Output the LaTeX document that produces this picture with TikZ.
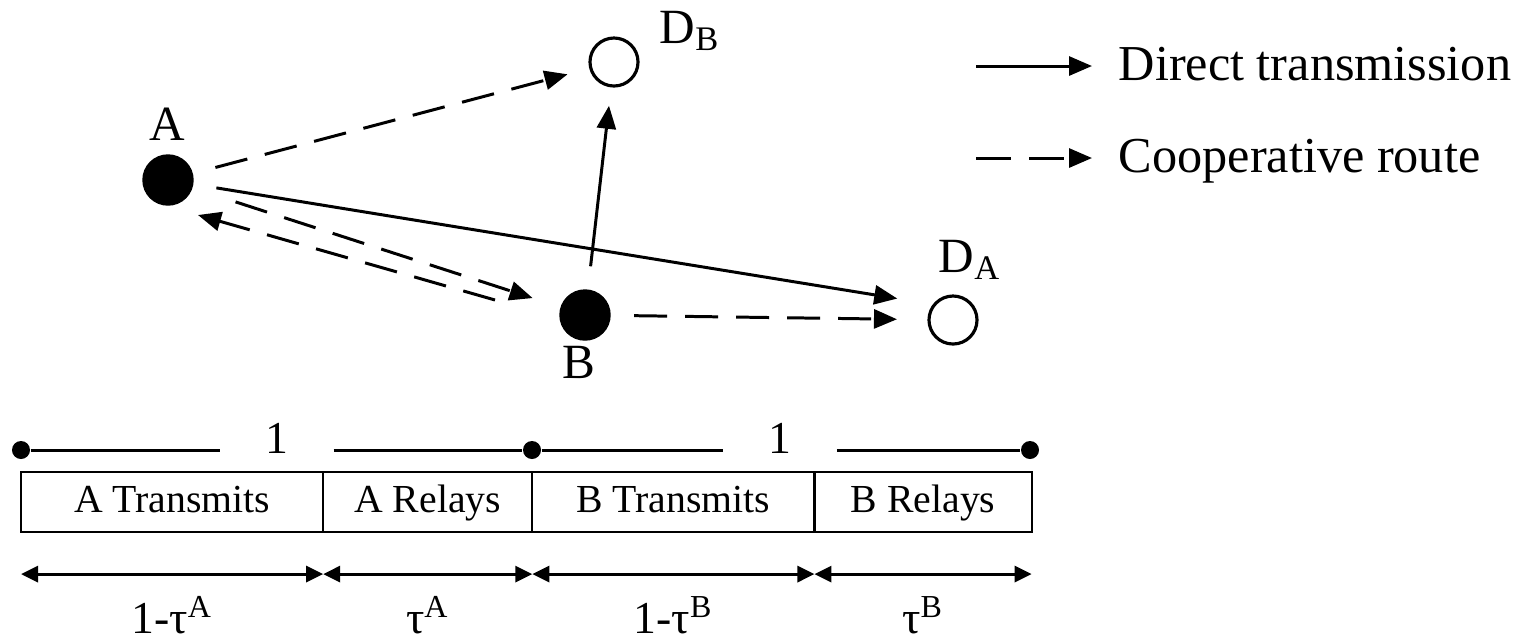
\documentclass[tikz,border=0pt]{standalone}
\usepackage{fontspec}
\setmainfont{Liberation Serif}
\usetikzlibrary{arrows.meta, positioning, calc}
\tikzset{
  srcnode/.style={circle, fill=black, draw=black, inner sep=0pt,
                  minimum size=0.5cm, outer sep=0.24cm},
  destnode/.style={circle, draw=black, line width=0.9pt, fill=white, inner sep=0pt,
                   minimum size=0.48cm, outer sep=0.24cm},
  nodelabel/.style={font=\fontsize{14}{16}\selectfont, inner sep=0pt, anchor=base},
  directarr/.style={-{Triangle[length=0.23cm, width=0.19cm]}, line width=0.85pt},
  coarr/.style={directarr, dash pattern=on 0.33cm off 0.18cm},
  legendtext/.style={font=\fontsize{14.3}{17}\selectfont, inner sep=0pt, anchor=base west},
  tickdot/.style={circle, fill=black, inner sep=0pt, minimum size=0.18cm},
  onelabel/.style={font=\fontsize{13}{15}\selectfont, inner sep=0pt, minimum width=1.12cm},
  slotbox/.style={draw, line width=0.6pt, minimum height=0.6cm, inner sep=0pt, outer sep=0pt,
                  text height=1.55ex, text depth=0.3ex, font=\fontsize{11.3}{13}\selectfont},
  spanarr/.style={{Triangle[length=0.17cm, width=0.16cm]}-{Triangle[length=0.17cm, width=0.16cm]},
                  line width=0.85pt},
  spanlabel/.style={font=\fontsize{13}{15}\selectfont, inner sep=0pt, anchor=base},
}

\begin{document}
\begin{tikzpicture}[x=0.01cm, y=-0.01cm]
  \useasboundingbox (0,0) rectangle (1525,638);

  % terminals
  \node[srcnode] (A) at (168,180) {};
  \node[srcnode] (B) at (585,315) {};
  \node[destnode] (DB) at (614,62) {};
  \node[destnode] (DA) at (953,320) {};
  \node[nodelabel] (lA) at (167,140) {A};
  \node[nodelabel] (lB) at (579,378) {B};
  \node[nodelabel, anchor=base west] (lDB) at (659,43) {D\textsubscript{B}};
  \node[nodelabel, anchor=base west] (lDA) at (938,272) {D\textsubscript{A}};

  % links
  \draw[coarr] (A) -- (DB);
  \draw[directarr, shorten >=0.12cm] (A) -- (DA.156);
  \draw[coarr, shorten <=0.22cm, shorten >=0.06cm] (A) -- (B);
  \draw[coarr] ($(B)+(-90,-15)$) -- ($(A)+(30,35)$);
  \draw[directarr, shorten >=-0.04cm] (B) -- (DB);
  \draw[coarr, shorten >=0.08cm] (B) -- (DA);

  % legend
  \coordinate (ls0) at (976,66);
  \coordinate (ls1) at (1092,66);
  \coordinate (lc0) at (976,158);
  \coordinate (lc1) at (1092,158);
  \draw[directarr] (ls0) -- (ls1);
  \draw[coarr, dash pattern=on 0.35cm off 0.18cm] (lc0) -- (lc1);
  \node[legendtext] (ldirect) at (1118,80) {Direct transmission};
  \node[legendtext] (lcoop) at (1118,172) {Cooperative route};

  % frame
  \node[tickdot] (t0) at (21,450) {};
  \node[tickdot] (t1) at (532,450) {};
  \node[tickdot] (t2) at (1030,450) {};
  \node[onelabel] (u1) at (277,438) {1};
  \node[onelabel] (u2) at (780,438) {1};
  \draw[line width=0.85pt] (t0) -- (u1.west |- t0);
  \draw[line width=0.85pt] (u1.east |- t1) -- (t1);
  \draw[line width=0.85pt] (t1) -- (u2.west |- t1);
  \draw[line width=0.85pt] (u2.east |- t2) -- (t2);

  \node[slotbox, minimum width=3.02cm, anchor=north west] (s1) at (21,472) {A Transmits};
  \node[slotbox, minimum width=2.09cm, right=0pt of s1] (s2) {A Relays};
  \node[slotbox, minimum width=2.82cm, right=0pt of s2] (s3) {B Transmits};
  \node[slotbox, minimum width=2.17cm, right=0pt of s3] (s4) {B Relays};

  \foreach \n/\t in {s1/{1-τ\textsuperscript{A}}, s2/{τ\textsuperscript{A}},
                     s3/{1-τ\textsuperscript{B}}, s4/{τ\textsuperscript{B}}} {
    \draw[spanarr] ([yshift=-0.42cm]\n.south west) -- ([yshift=-0.42cm]\n.south east)
      node[spanlabel, midway, yshift=-0.59cm] {\t};
  }
\end{tikzpicture}
\end{document}
